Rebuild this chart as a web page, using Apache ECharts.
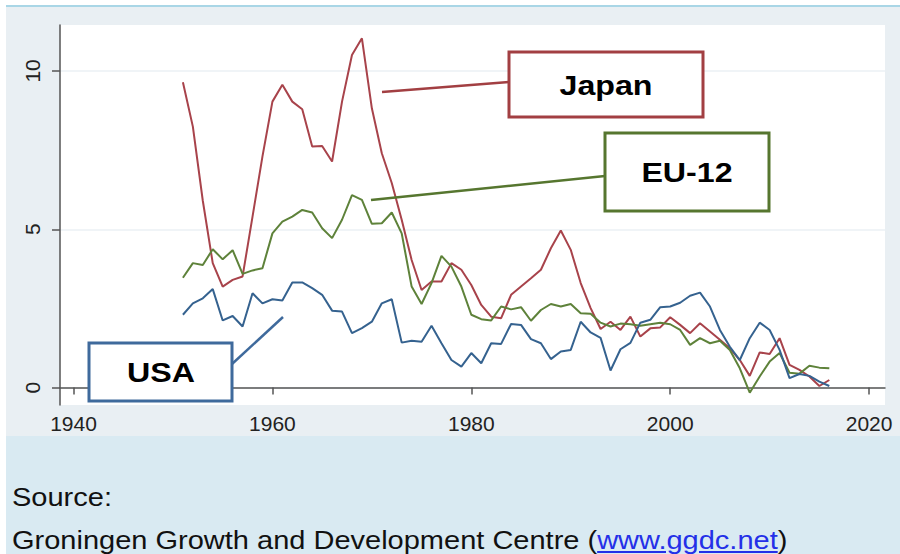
<!DOCTYPE html>
<html>
<head>
<meta charset="utf-8">
<script src="https://cdn.jsdelivr.net/npm/echarts@6/dist/echarts.min.js"></script>
<style>
  html, body { margin: 0; padding: 0; background: #ffffff; }
  #wrap { position: relative; width: 900px; height: 554px; overflow: hidden; font-family: "Liberation Sans", Arial, sans-serif; }
  .topline { position: absolute; left: 6px; top: 5px; width: 894px; height: 2px; background: #a9d6e6; }
  .band { position: absolute; left: 6px; top: 7px; width: 894px; height: 429px; background: #e9eff3; }
  .lower { position: absolute; left: 6px; top: 436px; width: 894px; height: 118px; background: #d9eaf2; }
  #chart { position: absolute; left: 0; top: 0; width: 900px; height: 554px; }
  .note { position: absolute; left: 12px; font-size: 25px; line-height: 25px; color: #111; white-space: nowrap; transform: scaleX(1.16); transform-origin: left center; }
  .note a { color: #2430e8; text-decoration: underline; }
</style>
</head>
<body>
<div id="wrap">
  <div class="topline"></div>
  <div class="band"></div>
  <div class="lower"></div>
  <div id="chart"></div>
  <div class="note" style="top:485px;">Source:</div>
  <div class="note" style="top:528px;">Groningen Growth and Development Centre (<a>www.ggdc.net</a>)</div>
</div>
<script>
const years = [1951,1952,1953,1954,1955,1956,1957,1958,1959,1960,
  1961,1962,1963,1964,1965,1966,1967,1968,1969,1970,
  1971,1972,1973,1974,1975,1976,1977,1978,1979,1980,
  1981,1982,1983,1984,1985,1986,1987,1988,1989,1990,
  1991,1992,1993,1994,1995,1996,1997,1998,1999,2000,
  2001,2002,2003,2004,2005,2006,2007,2008,2009,2010,
  2011,2012,2013,2014,2015,2016];

const japan = [9.64,8.24,5.9,3.93,3.19,3.40,3.51,5.4,7.3,9.03,
  9.56,9.03,8.79,7.61,7.63,7.14,9.03,10.5,11.03,8.82,
  7.4,6.46,5.3,4.03,3.08,3.35,3.35,3.93,3.72,3.24,
  2.61,2.24,2.19,2.93,3.19,3.45,3.72,4.40,4.96,4.35,
  3.30,2.51,1.85,2.08,1.82,2.24,1.61,1.87,1.90,2.22,
  1.98,1.72,2.03,1.77,1.51,1.24,0.87,0.37,1.11,1.06,
  1.56,0.72,0.56,0.35,0.05,0.24];

const eu12 = [3.47,3.93,3.87,4.37,4.05,4.34,3.59,3.70,3.77,4.87,
  5.24,5.40,5.61,5.53,5.03,4.72,5.30,6.08,5.93,5.17,
  5.19,5.53,4.87,3.19,2.64,3.30,4.16,3.82,3.19,2.30,
  2.16,2.12,2.56,2.47,2.54,2.11,2.45,2.64,2.56,2.64,
  2.35,2.33,2.05,1.93,2.02,2.00,1.95,2.00,2.05,2.00,
  1.82,1.35,1.56,1.40,1.48,1.19,0.61,-0.16,0.35,0.82,
  1.09,0.47,0.44,0.69,0.63,0.61];

const usa = [2.30,2.66,2.82,3.11,2.12,2.26,1.93,2.98,2.66,2.79,
  2.75,3.32,3.32,3.14,2.93,2.43,2.40,1.72,1.88,2.08,
  2.66,2.79,1.42,1.48,1.45,1.95,1.40,0.87,0.66,1.09,
  0.77,1.40,1.38,2.01,1.98,1.53,1.40,0.90,1.14,1.19,
  2.08,1.74,1.57,0.54,1.21,1.41,2.05,2.14,2.54,2.56,
  2.68,2.90,3.00,2.56,1.82,1.29,0.87,1.56,2.05,1.82,
  1.19,0.30,0.43,0.37,0.19,0.05];

const xTicks = [1940, 1960, 1980, 2000, 2020];
const yTicks = [0, 5, 10];

const seriesNames = ['Japan', 'EU-12', 'USA'];
const seriesValues = [japan, eu12, usa];
const colors = ['#a8434b', '#5e823a', '#35628f'];
const boxColors = ['#a23f42', '#56762f', '#3f6a9c'];

const chart = echarts.init(document.getElementById('chart'), null, { renderer: 'svg' });

const font = '"Liberation Sans", Arial, sans-serif';

function pairs(vals) { return years.map((y, i) => [y, vals[i]]); }

function box(x, y, w, h, color, label, cx, cy, line) {
  return [
    { type: 'line', shape: { x1: line[0], y1: line[1], x2: line[2], y2: line[3] },
      style: { stroke: color, lineWidth: 2.5 }, z: 100 },
    { type: 'rect', shape: { x: x, y: y, width: w, height: h },
      style: { fill: '#ffffff', stroke: color, lineWidth: 3 }, z: 101 },
    { type: 'text', x: cx, y: cy, scaleX: 1.15, z: 102,
      style: { text: label, fill: '#000', font: 'bold 28px ' + font, align: 'center', verticalAlign: 'middle' } }
  ];
}

const option = {
  animation: false,
  backgroundColor: 'transparent',
  grid: { left: 60, right: 15, top: 25, bottom: 149, show: true, backgroundColor: '#ffffff', borderWidth: 0 },
  xAxis: {
    type: 'value', min: 1938.64, max: 2021.6,
    axisLine: { show: true, lineStyle: { color: '#555', width: 1.5 } },
    axisTick: { show: true, length: 7, lineStyle: { color: '#555', width: 1.5 }, customValues: xTicks },
    axisLabel: { customValues: xTicks, fontSize: 21, color: '#222', fontFamily: font, margin: 8,
      formatter: v => String(v) },
    splitLine: { show: false }
  },
  yAxis: {
    type: 'value', min: -0.55, max: 11.45,
    axisLine: { show: true, onZero: false, lineStyle: { color: '#555', width: 1.5 } },
    axisTick: { show: true, length: 8, lineStyle: { color: '#555', width: 1.5 }, customValues: yTicks },
    axisLabel: { customValues: yTicks, fontSize: 21, color: '#222', fontFamily: font, rotate: 90, margin: 17,
      formatter: v => String(v) },
    splitLine: { show: true, lineStyle: { color: '#ebf1f5', width: 1.5 } }
  },
  series: seriesNames.map((n, i) => ({
    name: n, type: 'line', data: pairs(seriesValues[i]),
    showSymbol: false, symbol: 'none',
    lineStyle: { color: colors[i], width: 2 },
    itemStyle: { color: colors[i] },
    z: 3 + i
  })),
  graphic: [].concat(
    box(509, 52, 194, 65, boxColors[0], 'Japan', 606, 85, [382, 92, 509, 82]),
    box(605, 133, 164, 78, boxColors[1], 'EU-12', 687, 172, [371, 200, 605, 176]),
    box(89, 343, 143, 58, boxColors[2], 'USA', 161, 372, [232, 364, 283, 317])
  )
};

chart.setOption(option);
</script>
</body>
</html>
